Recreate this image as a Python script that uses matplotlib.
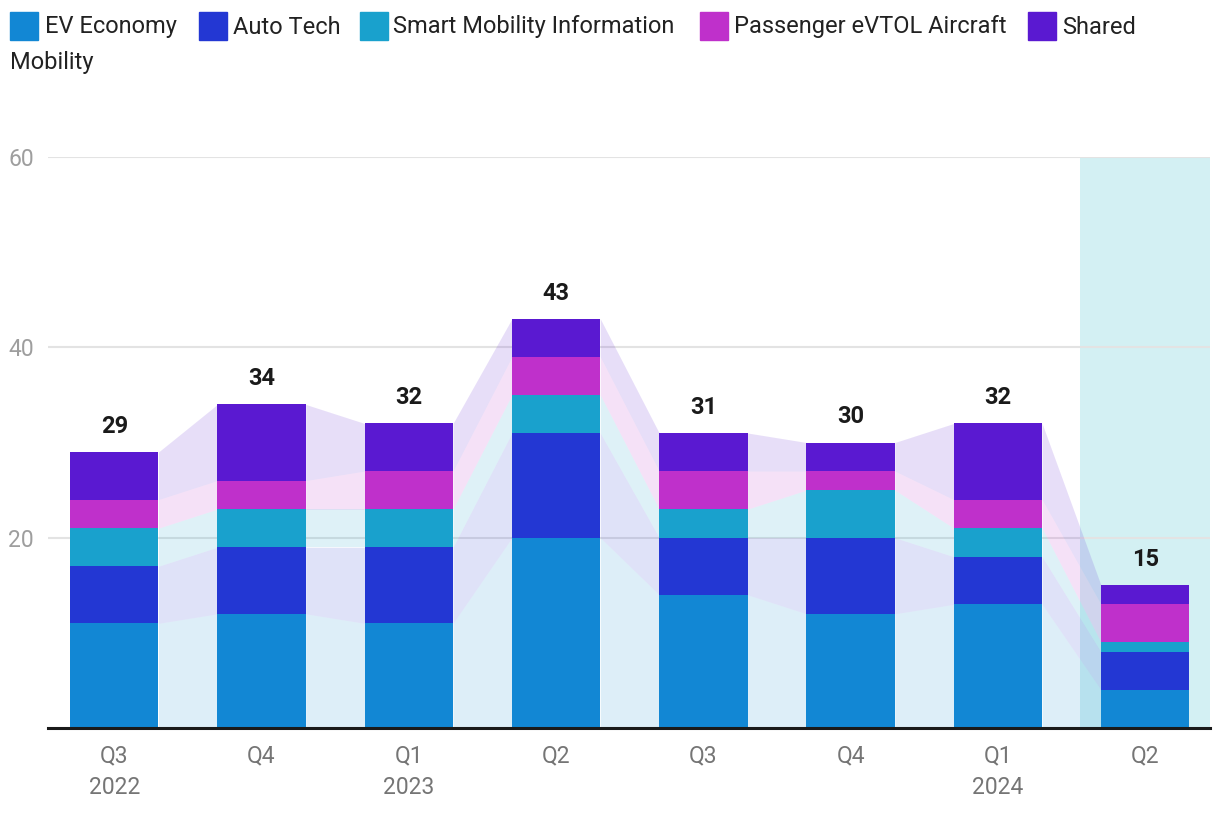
import matplotlib.pyplot as plt
import numpy as np
from matplotlib.patches import Rectangle

plt.rcParams['font.family'] = ['Roboto', 'DejaVu Sans']

quarters = ['Q3\n2022', 'Q4', 'Q1\n2023', 'Q2', 'Q3', 'Q4', 'Q1\n2024', 'Q2']
series_names = ['EV Economy', 'Auto Tech', 'Smart Mobility Information',
                'Passenger eVTOL Aircraft', 'Shared Mobility']
ev_economy = [11, 12, 11, 20, 14, 12, 13, 4]
auto_tech = [6, 7, 8, 11, 6, 8, 5, 4]
smart_mobility = [4, 4, 4, 4, 3, 5, 3, 1]
evtol = [3, 3, 4, 4, 4, 2, 3, 4]
shared = [5, 8, 5, 4, 4, 3, 8, 2]
colors = ['#1287d4', '#2337d3', '#19a1cd', '#bf30cb', '#5a19d1']

data = np.array([ev_economy, auto_tech, smart_mobility, evtol, shared])
totals = data.sum(axis=0)
x = np.arange(len(quarters))
w = 0.6

fig = plt.figure(figsize=(12.2, 8.16), dpi=100)
ax = fig.add_axes([48 / 1220, 1 - 728 / 816, (1210 - 48) / 1220, (728 - 157) / 816])

# highlighted last period
ax.axvspan(6.56, 7.5, color='#d3f0f3', zorder=0, lw=0)

bottom = np.zeros(len(x))
for vals, col in zip(data, colors):
    top = bottom + vals
    ax.bar(x, vals, w, bottom=bottom, color=col, zorder=3, lw=0)
    # connecting bands between bars
    for i in range(len(x) - 1):
        xs = [x[i] + w / 2, x[i + 1] - w / 2]
        ax.fill_between(xs, [bottom[i], bottom[i + 1]], [top[i], top[i + 1]],
                        color=col, alpha=0.14, lw=0, zorder=2)
    bottom = top

for xi, t in zip(x, totals):
    ax.text(xi, t + 1.5, str(t), ha='center', va='bottom', fontsize=17,
            fontweight='bold', color='#1a1a1a')

ax.set_xlim(-0.45, 7.44)
ax.set_ylim(0, 60)
ax.set_yticks([20, 40, 60])
ax.yaxis.grid(True, color='#e3e3e3', lw=1.5, zorder=1)
ax.set_axisbelow(True)
for s in ['top', 'right', 'left']:
    ax.spines[s].set_visible(False)
ax.spines['bottom'].set_color('#1a1a1a')
ax.spines['bottom'].set_linewidth(2.2)
ax.spines['bottom'].set_zorder(5)
ax.tick_params(axis='y', length=0, labelsize=16.5, labelcolor='#9e9e9e', pad=10)
ax.tick_params(axis='x', length=0, labelsize=16.5, labelcolor='#757575', pad=12)
ax.set_xticks(x)
ax.set_xticklabels(quarters, linespacing=1.45)
for lbl in ax.get_yticklabels():
    lbl.set_horizontalalignment('right')

# legend drawn by hand so it wraps like the original
leg_items = [(10, 45, 'EV Economy'), (199, 233, 'Auto Tech'),
             (360, 393, 'Smart Mobility Information'),
             (700, 734, 'Passenger eVTOL Aircraft'), (1028, 1062, 'Shared')]
for (sx, tx, name), col in zip(leg_items, colors):
    fig.patches.append(Rectangle((sx / 1220, 1 - 40 / 816), 28 / 1220, 28 / 816,
                                 transform=fig.transFigure, color=col))
    fig.text(tx / 1220, 1 - 27 / 816, name, fontsize=17, va='center', color='#222222')
fig.text(10 / 1220, 1 - 63 / 816, 'Mobility', fontsize=17, va='center', color='#222222')

fig.savefig('out.png', dpi=100)
